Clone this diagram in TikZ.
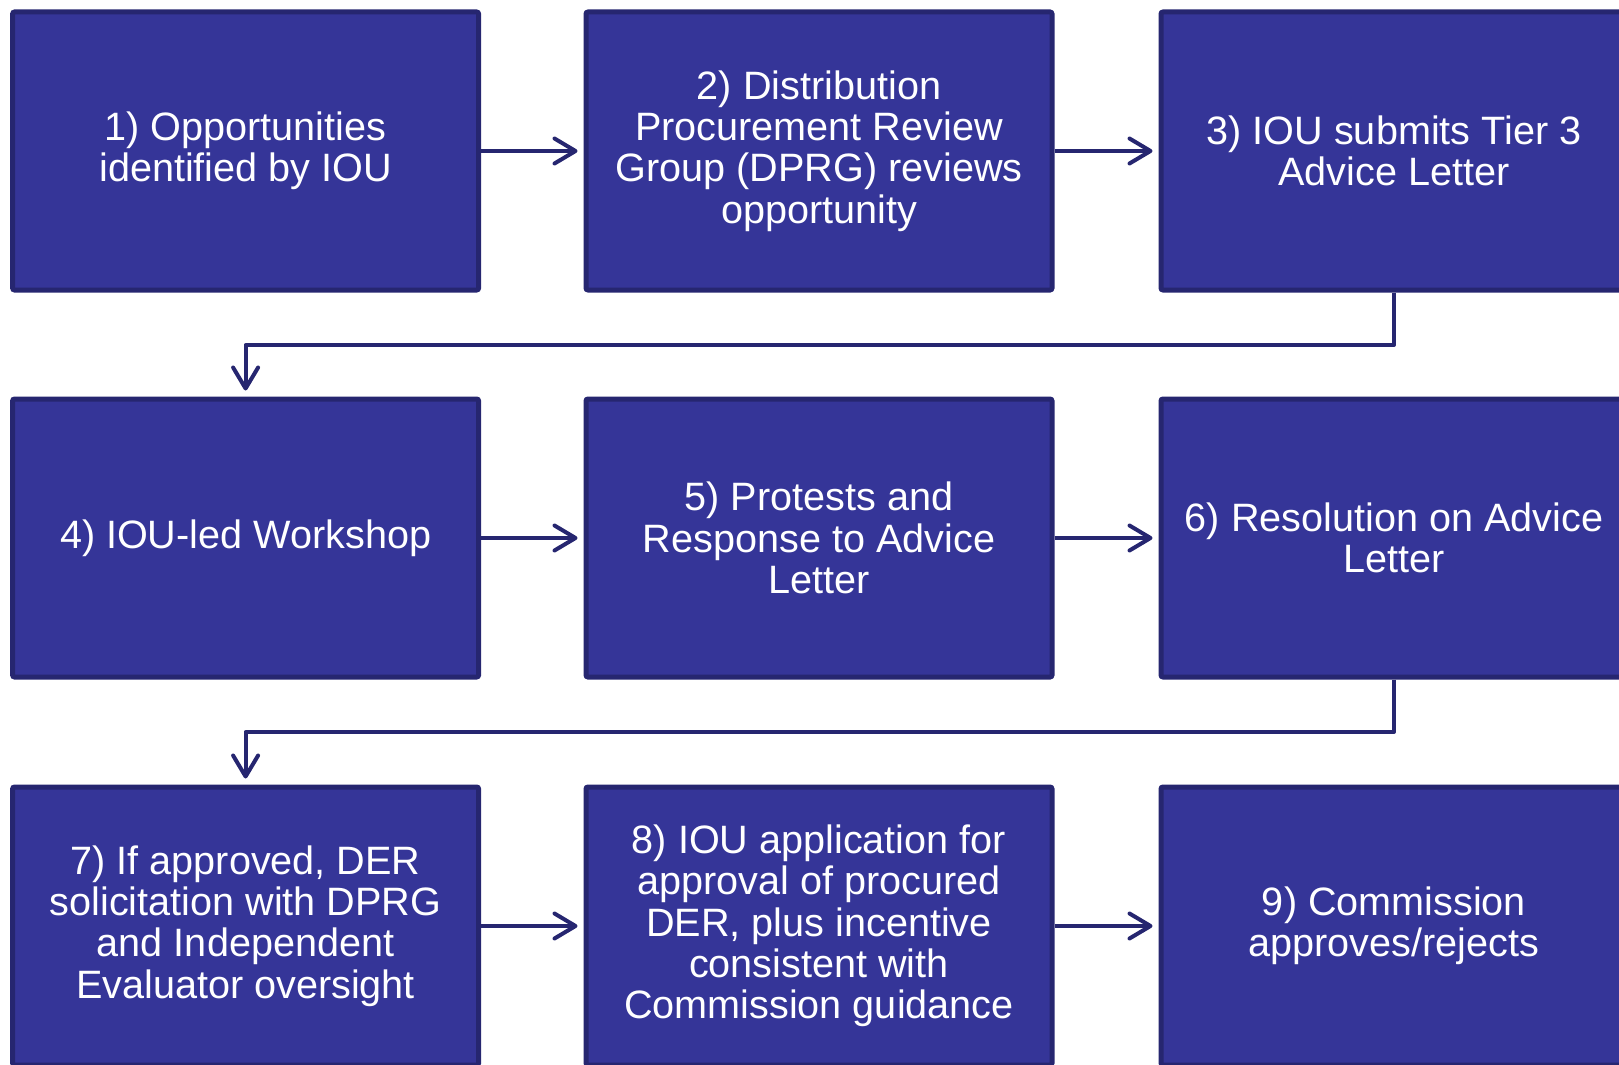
\documentclass[tikz,border=0pt]{standalone}
\usepackage{fontspec}
\setmainfont{Liberation Sans}
\usetikzlibrary{arrows.meta}
\definecolor{boxfill}{RGB}{53,53,152}
\definecolor{boxline}{RGB}{38,38,112}
\tikzset{
  stepbox/.style={draw=boxline, fill=boxfill, line width=2.5pt, rounded corners=1pt,
    minimum width=233pt, minimum height=139pt, inner sep=0pt, text=white, align=center,
    font=\fontsize{19.8pt}{20.65pt}\selectfont},
  arr/.style={draw=boxline, line width=2pt, line join=round,
    -{Straight Barb[length=10.5pt,width=12.5pt,line cap=round,line join=round]}, shorten >=3pt}
}
\begin{document}
\begin{tikzpicture}[x=0.5pt,y=-0.5pt]
\useasboundingbox (0,0) rectangle (1619,1065);
\clip (0,0) rectangle (1619,1065);
\node[stepbox] (b1) at (245.6,151) {1) Opportunities\\identified by IOU};
\node[stepbox] (b2) at (819,151) {2) Distribution\\Procurement Review\\Group (DPRG) reviews\\opportunity};
\node[stepbox] (b3) at (1394,151) {3) IOU submits Tier 3\\Advice Letter};
\node[stepbox] (b4) at (245.6,538) {4) IOU-led Workshop};
\node[stepbox] (b5) at (819,538) {5) Protests and\\Response to Advice\\Letter};
\node[stepbox] (b6) at (1394,538) {6) Resolution on Advice\\Letter};
\node[stepbox] (b7) at (245.6,926) {7) If approved, DER\\solicitation with DPRG\\and Independent\\Evaluator oversight};
\node[stepbox] (b8) at (819,926) {8) IOU application for\\approval of procured\\DER, plus incentive\\consistent with\\Commission guidance};
\node[stepbox] (b9) at (1394,926) {9) Commission\\approves/rejects};
\coordinate (m1) at (245.6,345);
\coordinate (m2) at (245.6,732);
\draw[arr] (b1.east) -- (b2.west);
\draw[arr] (b2.east) -- (b3.west);
\draw[arr] (b3.south) |- (m1) -- (b4.north);
\draw[arr] (b4.east) -- (b5.west);
\draw[arr] (b5.east) -- (b6.west);
\draw[arr] (b6.south) |- (m2) -- (b7.north);
\draw[arr] (b7.east) -- (b8.west);
\draw[arr] (b8.east) -- (b9.west);
\end{tikzpicture}
\end{document}
